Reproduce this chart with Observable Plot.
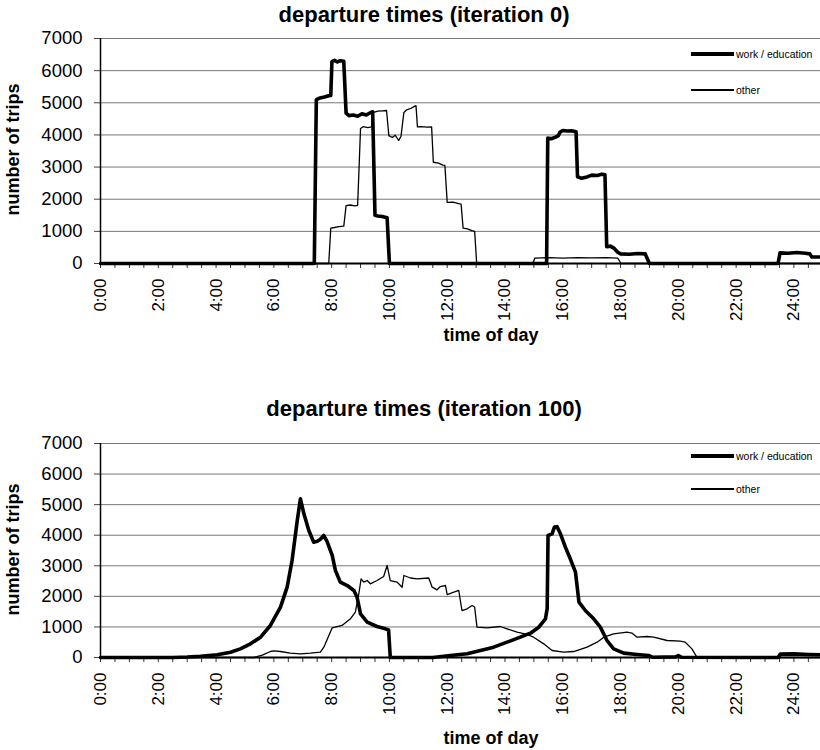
<!DOCTYPE html>
<html>
<head>
<meta charset="utf-8">
<script src="https://cdn.jsdelivr.net/npm/d3@7"></script>
<script src="https://cdn.jsdelivr.net/npm/@observablehq/plot@0.6"></script>
<style>
  html, body { margin: 0; padding: 0; background: white; }
  #wrap { position: relative; width: 820px; height: 750px; overflow: hidden; font-family: "Liberation Sans", Arial, Helvetica, sans-serif; color: #000; }
  .abs { position: absolute; white-space: nowrap; }
  .title { font-weight: bold; font-size: 22px; text-align: center; width: 500px; }
  .xlab { font-weight: bold; font-size: 18px; text-align: center; width: 300px; }
  .ylab { font-weight: bold; font-size: 18px; text-align: center; width: 220px; transform: rotate(-90deg); }
  .leg { font-size: 10.5px; line-height: 12px; }
  .legline { position: absolute; background: #000; }
</style>
</head>
<body>
<div id="wrap"></div>
<script>
// ---- data (hour of day, number of trips) ----
const yTicks = [0, 1000, 2000, 3000, 4000, 5000, 6000, 7000];
const xLabelHours = [0, 2, 4, 6, 8, 10, 12, 14, 16, 18, 20, 22, 24];
const xTickLabels = ["0:00","2:00","4:00","6:00","8:00","10:00","12:00","14:00","16:00","18:00","20:00","22:00","24:00"];
const halfHourTicks = [0,0.5,1,1.5,2,2.5,3,3.5,4,4.5,5,5.5,6,6.5,7,7.5,8,8.5,9,9.5,10,10.5,11,11.5,12,12.5,13,13.5,14,14.5,15,15.5,16,16.5,17,17.5,18,18.5,19,19.5,20,20.5,21,21.5,22,22.5,23,23.5,24,24.5];
const titles = ["departure times (iteration 0)", "departure times (iteration 100)"];
const seriesNames = ["work / education", "other"];

const work0 = [[0,0],[7.40,0],[7.47,5100],[7.6,5150],[7.75,5180],[7.9,5220],[7.97,5230],[8.01,6280],[8.1,6320],[8.2,6270],[8.3,6310],[8.42,6290],[8.5,4680],[8.6,4600],[8.75,4620],[8.9,4580],[9.05,4660],[9.2,4620],[9.35,4700],[9.42,4720],[9.5,1500],[9.6,1480],[9.75,1460],[9.92,1420],[10.0,0],[15.44,0],[15.48,3900],[15.6,3880],[15.75,3930],[15.85,3980],[15.9,4080],[16.0,4140],[16.15,4120],[16.3,4130],[16.46,4100],[16.51,2700],[16.65,2650],[16.8,2680],[17.0,2750],[17.2,2740],[17.35,2780],[17.46,2760],[17.52,520],[17.65,540],[17.78,470],[17.9,350],[18.0,300],[18.3,290],[18.6,310],[18.85,300],[19.0,0],[23.45,0],[23.52,330],[23.8,320],[24.1,340],[24.4,320],[24.55,300],[24.62,200],[24.92,200]];

const other0 = [[0,0],[7.9,0],[7.97,1100],[8.1,1120],[8.25,1150],[8.42,1160],[8.5,1800],[8.65,1820],[8.8,1790],[8.9,1810],[9.0,4200],[9.1,4260],[9.25,4230],[9.38,4250],[9.45,4700],[9.6,4740],[9.75,4750],[9.9,4760],[9.98,3980],[10.1,3920],[10.2,3990],[10.32,3830],[10.4,3950],[10.5,4700],[10.6,4780],[10.75,4830],[10.85,4880],[10.92,4910],[10.97,4250],[11.1,4260],[11.3,4240],[11.46,4250],[11.52,3150],[11.7,3120],[11.85,3060],[11.92,3050],[12.0,1900],[12.2,1910],[12.4,1860],[12.48,1850],[12.55,1100],[12.7,1080],[12.85,1020],[12.95,1000],[13.02,0],[14.97,0],[15.03,170],[15.5,180],[16.0,165],[16.5,185],[17.0,175],[17.5,180],[17.9,170],[18.02,0],[24.92,0]];

const work100 = [[0,0],[2.5,0],[3.0,15],[3.46,40],[4.04,88],[4.5,174],[4.84,283],[5.19,447],[5.54,665],[5.88,1047],[6.23,1646],[6.46,2300],[6.63,3173],[6.81,4481],[6.92,5190],[7.04,4700],[7.21,4154],[7.38,3772],[7.5,3800],[7.6,3860],[7.73,3990],[7.84,3800],[8.02,3337],[8.13,2846],[8.3,2464],[8.54,2355],[8.77,2192],[8.88,1973],[9.0,1430],[9.23,1155],[9.57,1014],[9.86,938],[9.97,900],[10.03,0],[11.5,0],[12.11,65],[12.69,120],[13.15,229],[13.61,338],[14.07,501],[14.53,665],[14.88,796],[15.17,992],[15.4,1265],[15.46,1600],[15.49,3991],[15.63,4046],[15.71,4264],[15.8,4280],[15.92,4046],[16.09,3610],[16.26,3228],[16.44,2790],[16.56,1810],[16.78,1537],[17.07,1265],[17.3,992],[17.53,556],[17.76,283],[18.11,142],[18.57,98],[18.97,65],[19.1,10],[19.9,20],[20.0,60],[20.1,10],[23.45,0],[23.53,110],[24.0,120],[24.5,100],[24.92,90]];

const other100 = [[0,0],[5.3,0],[5.6,80],[5.88,196],[6.0,218],[6.23,196],[6.57,142],[6.92,120],[7.27,142],[7.61,174],[7.73,338],[8.02,971],[8.36,1047],[8.65,1265],[8.82,1483],[8.94,2082],[9.02,2573],[9.11,2464],[9.23,2518],[9.34,2410],[9.57,2518],[9.8,2650],[9.92,3010],[10.03,2518],[10.27,2464],[10.44,2300],[10.5,2682],[10.73,2600],[10.96,2573],[11.36,2600],[11.48,2300],[11.65,2214],[11.76,2320],[11.94,2355],[12.0,2060],[12.23,2137],[12.4,2192],[12.51,1537],[12.69,1592],[12.86,1700],[12.95,1650],[13.03,992],[13.38,970],[13.84,1014],[14.07,938],[14.42,829],[14.76,753],[14.99,665],[15.34,447],[15.63,229],[16.03,174],[16.38,196],[16.84,338],[17.19,501],[17.42,665],[17.76,774],[18.22,829],[18.39,800],[18.57,665],[18.92,687],[19.15,665],[19.61,556],[20.07,534],[20.24,501],[20.47,283],[20.65,0],[24.92,0]];

// ---- drawing ----
const FONT = '"Liberation Sans", Arial, Helvetica, sans-serif';
const wrap = document.getElementById("wrap");

function makeChart(work, other, top, height, marginTop, marginBottom) {
  const svg = Plot.plot({
    width: 820, height, marginLeft: 100, marginRight: 0, marginTop, marginBottom,
    style: { fontFamily: FONT, fontSize: "18px", color: "#000", background: "transparent", overflow: "visible" },
    x: { domain: [0, 24.92] },
    y: { domain: [0, 7000] },
    marks: [
      Plot.gridY(yTicks, { stroke: "#777", strokeOpacity: 1, strokeWidth: 1 }),
      Plot.axisY(yTicks, { tickSize: 6, tickPadding: 12, label: null, fontSize: 18.5, stroke: "#444",
        tickFormat: d => String(d) }),
      Plot.axisX(halfHourTicks, { tickSize: 5, tickFormat: () => "", label: null, stroke: "#333" }),
      Plot.axisX(xLabelHours, { tickSize: 0, tickRotate: -90, tickPadding: 15, fontSize: 17, label: null,
        tickFormat: d => xTickLabels[xLabelHours.indexOf(d)] }),
      Plot.line(other, { x: d => d[0], y: d => d[1], stroke: "#000", strokeWidth: 1.3, strokeLinejoin: "round" }),
      Plot.line(work, { x: d => d[0], y: d => d[1], stroke: "#000", strokeWidth: 3.6, strokeLinejoin: "round" }),
      Plot.ruleX([0], { stroke: "#000", strokeWidth: 1.5 }),
      Plot.ruleY([0], { stroke: "#000", strokeWidth: 2.2 })
    ]
  });
  svg.style.position = "absolute";
  svg.style.left = "0px";
  svg.style.top = top + "px";
  wrap.appendChild(svg);
}

function addDiv(cls, text, left, top) {
  const d = document.createElement("div");
  d.className = "abs " + cls;
  d.textContent = text;
  d.style.left = left + "px";
  d.style.top = top + "px";
  wrap.appendChild(d);
  return d;
}
function addLegend(yThick, yThin) {
  const l1 = document.createElement("div");
  l1.className = "legline";
  Object.assign(l1.style, { left: "691px", top: (yThick - 2) + "px", width: "43px", height: "4px" });
  wrap.appendChild(l1);
  addDiv("leg", seriesNames[0], 736, yThick - 6);
  const l2 = document.createElement("div");
  l2.className = "legline";
  Object.assign(l2.style, { left: "691px", top: (yThin - 0.75) + "px", width: "43px", height: "1.5px" });
  wrap.appendChild(l2);
  addDiv("leg", seriesNames[1], 736, yThin - 6);
}

// top chart: plot y 38..263
makeChart(work0, other0, 0, 340, 38, 77);
// bottom chart: plot y 443..657
makeChart(work100, other100, 400, 340, 43, 83);

addDiv("title", titles[0], 424 - 250, 2);
addDiv("title", titles[1], 424 - 250, 396);
addDiv("xlab", "time of day", 491 - 150, 325);
addDiv("xlab", "time of day", 491 - 150, 728);
addDiv("ylab", "number of trips", 13 - 110, 150 - 11);
addDiv("ylab", "number of trips", 13 - 110, 550 - 11);
addLegend(54, 90);
addLegend(456, 489);
</script>
</body>
</html>
